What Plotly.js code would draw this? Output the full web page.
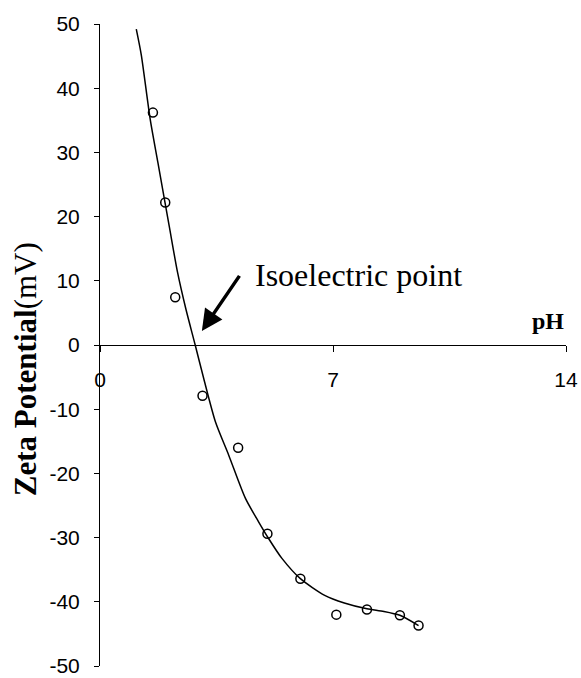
<!DOCTYPE html>
<html>
<head>
<meta charset="utf-8">
<script src="https://cdn.plot.ly/plotly-3.0.1.min.js"></script>
<style>
  html, body { margin: 0; padding: 0; background: #fff; }
  #chart { width: 581px; height: 678px; }
</style>
</head>
<body>
<div id="chart"></div>
<script>
// Measured zeta potential (mV) against pH
const phMeasured = [1.59, 1.96, 2.26, 3.08, 4.15, 5.03, 6.02, 7.10, 8.02, 9.01, 9.57];
const zetaMeasured = [36.2, 22.2, 7.45, -7.9, -16.0, -29.4, -36.4, -42.0, -41.2, -42.1, -43.7];

// Fitted trend curve through the measurements
const phCurve = [1.09, 1.24, 1.51, 1.74, 2.08, 2.33, 2.58, 2.86, 3.12, 3.47, 3.87, 4.37, 4.76, 5.06, 5.46, 6.02, 6.75, 7.34, 8.02, 8.53, 9.01, 9.57];
const zetaCurve = [49.2, 45.2, 35.1, 28.4, 18.5, 11.3, 5.6, 0, -5.3, -12.0, -17.2, -23.9, -27.5, -30.1, -33.2, -36.4, -39.0, -40.2, -41.1, -41.5, -42.1, -43.7];

// Axis ticks (plain hyphen for negatives)
const phTicks = [0, 7, 14];
const phTickText = ['0', '7', '14'];
const zetaTicks = [-50, -40, -30, -20, -10, 0, 10, 20, 30, 40, 50];
const zetaTickText = ['-50', '-40', '-30', '-20', '-10', '0', '10', '20', '30', '40', '50'];

// Isoelectric point arrow: head and tail
const iepHead = [3.06, 2.2];
const iepTail = [4.22, 11.0];

const sans = 'Liberation Sans, Arial, sans-serif';
const serif = 'Liberation Serif, Times New Roman, serif';

const traces = [
  {
    x: phCurve, y: zetaCurve,
    type: 'scatter', mode: 'lines',
    line: { color: '#000', width: 1.5, shape: 'spline', smoothing: 0.7 },
    hoverinfo: 'skip', showlegend: false
  },
  {
    x: phMeasured, y: zetaMeasured,
    type: 'scatter', mode: 'markers',
    marker: { symbol: 'circle-open', size: 9, color: '#000', line: { width: 1.5, color: '#000' } },
    showlegend: false
  }
];

const layout = {
  width: 581, height: 678,
  margin: { l: 100, r: 15, t: 24, b: 12 },
  paper_bgcolor: '#fff', plot_bgcolor: '#fff',
  showlegend: false,
  xaxis: {
    range: [0, 14],
    tickvals: phTicks, ticktext: phTickText,
    showgrid: false, zeroline: false,
    showline: true, linecolor: '#000', linewidth: 1,
    ticks: 'outside', ticklen: 6, tickcolor: '#000', tickwidth: 1,
    anchor: 'free', position: 0.5,
    ticklabelstandoff: 10,
    tickfont: { family: sans, size: 21, color: '#000' }
  },
  yaxis: {
    range: [-50, 50],
    tickvals: zetaTicks, ticktext: zetaTickText,
    showgrid: false, zeroline: false,
    showline: true, linecolor: '#000', linewidth: 1,
    ticks: 'outside', ticklen: 5, tickcolor: '#000', tickwidth: 1,
    ticklabelstandoff: 10,
    tickfont: { family: sans, size: 21, color: '#000' }
  },
  annotations: [
    {
      x: iepHead[0], y: iepHead[1], xref: 'x', yref: 'y',
      ax: iepTail[0], ay: iepTail[1], axref: 'x', ayref: 'y',
      text: '', showarrow: true,
      arrowhead: 2, arrowsize: 1.2, arrowwidth: 3.5, arrowcolor: '#000'
    },
    {
      x: 4.61, y: 10.9, xref: 'x', yref: 'y',
      text: 'Isoelectric point', showarrow: false,
      xanchor: 'left', yanchor: 'middle',
      font: { family: serif, size: 32, color: '#000' }
    },
    {
      x: 1.0, y: 0, xref: 'paper', yref: 'y',
      xanchor: 'right', yanchor: 'bottom', yshift: 9,
      text: '<b>pH</b>', showarrow: false,
      font: { family: serif, size: 24, color: '#000' }
    },
    {
      x: -0.16, y: -3.7, xref: 'paper', yref: 'y',
      xanchor: 'center', yanchor: 'middle',
      textangle: -90,
      text: '<b>Zeta Potential</b>(mV)', showarrow: false,
      font: { family: serif, size: 31, color: '#000' }
    }
  ]
};

Plotly.newPlot('chart', traces, layout, { displayModeBar: false, staticPlot: true });
</script>
</body>
</html>
